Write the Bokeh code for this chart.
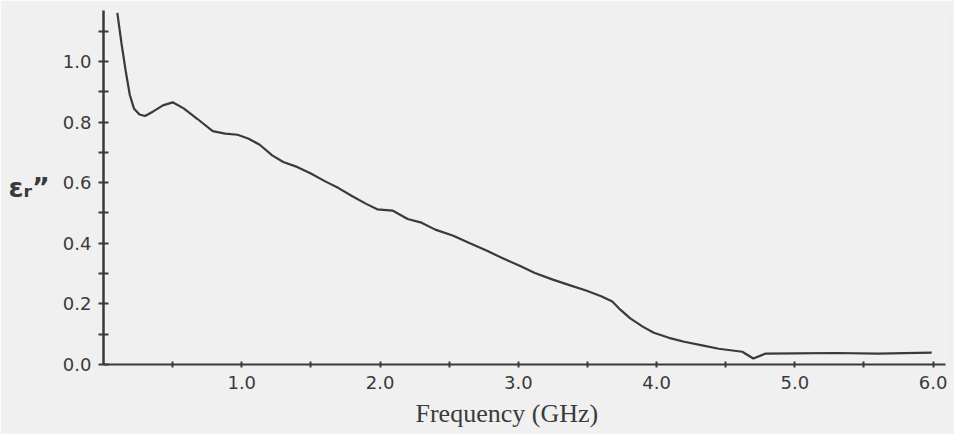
from bokeh.plotting import figure
from bokeh.models import Range1d, FixedTicker, Title
from bokeh.embed import file_html
from bokeh.resources import INLINE

# --- data ---
freq_ghz = [0.10, 0.13, 0.16, 0.19, 0.22, 0.26, 0.30, 0.36, 0.43, 0.50,
            0.58, 0.68, 0.79, 0.88, 0.97, 1.05, 1.13, 1.22, 1.30, 1.40,
            1.50, 1.60, 1.70, 1.80, 1.90, 1.98, 2.09, 2.20, 2.30, 2.40,
            2.53, 2.65, 2.77, 2.88, 3.01, 3.12, 3.25, 3.37, 3.49, 3.60,
            3.68, 3.74, 3.81, 3.90, 3.98, 4.09, 4.20, 4.33, 4.45, 4.62,
            4.70, 4.79, 5.00, 5.30, 5.60, 5.99]
eps_imag = [1.16, 1.06, 0.97, 0.89, 0.845, 0.825, 0.82, 0.835, 0.855, 0.865,
            0.845, 0.81, 0.77, 0.762, 0.758, 0.745, 0.725, 0.69, 0.668, 0.652,
            0.63, 0.605, 0.582, 0.555, 0.53, 0.512, 0.508, 0.48, 0.468, 0.445,
            0.425, 0.40, 0.376, 0.352, 0.326, 0.302, 0.28, 0.262, 0.244, 0.225,
            0.208, 0.18, 0.152, 0.125, 0.105, 0.088, 0.075, 0.063, 0.052, 0.042,
            0.02, 0.036, 0.037, 0.038, 0.036, 0.039]

x_ticks = [1.0, 2.0, 3.0, 4.0, 5.0, 6.0]
x_tick_labels = ["1.0", "2.0", "3.0", "4.0", "5.0", "6.0"]
x_minor = [0.5, 1.5, 2.5, 3.5, 4.5, 5.5]
y_ticks = [0.0, 0.2, 0.4, 0.6, 0.8, 1.0]
y_tick_labels = ["0.0", "0.2", "0.4", "0.6", "0.8", "1.0"]
y_minor = [0.1, 0.3, 0.5, 0.7, 0.9, 1.1]
x_title = "Frequency (GHz)"
y_title = "εᵣ”"

BG = "#f0f0f0"
INK = "#3a3a3a"

p = figure(width=954, height=434, output_backend="svg", toolbar_location=None,
           x_range=Range1d(0, 6.09), y_range=Range1d(0, 1.168),
           min_border_left=103, min_border_right=9, min_border_top=10,
           min_border_bottom=70)
p.background_fill_color = BG
p.border_fill_color = BG
p.outline_line_color = None
p.grid.visible = False

p.line(freq_ghz, eps_imag, line_color=INK, line_width=2.2)

# x axis
xa = p.xaxis[0]
xa.ticker = FixedTicker(ticks=x_ticks, minor_ticks=x_minor)
xa.major_label_overrides = {t: l for t, l in zip(x_ticks, x_tick_labels)}
xa.axis_line_color = INK
xa.axis_line_width = 2
xa.major_tick_line_color = INK
xa.minor_tick_line_color = INK
xa.major_tick_line_width = 2
xa.minor_tick_line_width = 2
xa.major_tick_in = 3
xa.major_tick_out = 3
xa.minor_tick_in = 3
xa.minor_tick_out = 3
xa.major_label_standoff = 8
xa.major_label_text_font = "DejaVu Sans"
xa.major_label_text_font_size = "18px"
xa.major_label_text_color = INK

# y axis
ya = p.yaxis[0]
ya.ticker = FixedTicker(ticks=y_ticks, minor_ticks=y_minor)
ya.major_label_overrides = {t: l for t, l in zip(y_ticks, y_tick_labels)}
ya.axis_line_color = INK
ya.axis_line_width = 2.5
ya.major_tick_line_color = INK
ya.minor_tick_line_color = INK
ya.major_tick_line_width = 2
ya.minor_tick_line_width = 2
ya.major_tick_in = 5
ya.major_tick_out = 5
ya.minor_tick_in = 5
ya.minor_tick_out = 5
ya.major_label_standoff = 7
ya.major_label_text_font = "DejaVu Sans"
ya.major_label_text_font_size = "18px"
ya.major_label_text_color = INK
ya.axis_label = y_title
ya.axis_label_orientation = "horizontal"
ya.axis_label_text_font = "DejaVu Sans"
ya.axis_label_text_font_size = "27px"
ya.axis_label_text_font_style = "bold"
ya.axis_label_text_color = INK
ya.axis_label_standoff = 10

# x title below the axis, shifted to match the reference position
p.add_layout(Title(text=x_title, align="left", offset=312, standoff=10,
                   text_font="Liberation Serif", text_font_size="26px",
                   text_font_style="normal", text_color=INK), "below")

open("out.html", "w").write(file_html(p, INLINE))
